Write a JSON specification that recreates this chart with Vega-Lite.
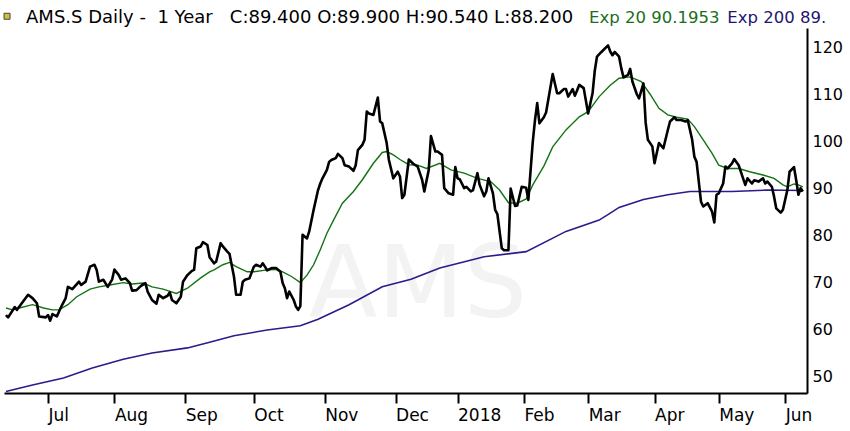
{
  "$schema": "https://vega.github.io/schema/vega-lite/v6.json",
  "width": 803,
  "height": 365,
  "autosize": {"type": "none"},
  "padding": {"left": 4, "top": 28, "right": 43, "bottom": 38},
  "background": "white",
  "datasets": {
    "close": [
      {"date": "2017-06-14", "value": 63.1}, {"date": "2017-06-15", "value": 62.6}, {"date": "2017-06-18", "value": 64.8},
      {"date": "2017-06-19", "value": 64.2}, {"date": "2017-06-24", "value": 67.4}, {"date": "2017-06-26", "value": 66.7},
      {"date": "2017-06-28", "value": 65.6}, {"date": "2017-06-29", "value": 62.8}, {"date": "2017-07-02", "value": 62.6},
      {"date": "2017-07-03", "value": 63.1}, {"date": "2017-07-04", "value": 61.9}, {"date": "2017-07-05", "value": 63.3},
      {"date": "2017-07-07", "value": 62.8}, {"date": "2017-07-09", "value": 64.9}, {"date": "2017-07-11", "value": 66.7},
      {"date": "2017-07-12", "value": 69.1}, {"date": "2017-07-14", "value": 68.6}, {"date": "2017-07-17", "value": 70.2},
      {"date": "2017-07-18", "value": 69.5}, {"date": "2017-07-20", "value": 70.2}, {"date": "2017-07-22", "value": 73.4},
      {"date": "2017-07-24", "value": 73.8}, {"date": "2017-07-25", "value": 72.7}, {"date": "2017-07-26", "value": 70.2},
      {"date": "2017-07-28", "value": 70.6}, {"date": "2017-07-30", "value": 69.1}, {"date": "2017-08-01", "value": 70.7},
      {"date": "2017-08-02", "value": 72.8}, {"date": "2017-08-04", "value": 71.6}, {"date": "2017-08-05", "value": 70.6},
      {"date": "2017-08-07", "value": 70.9}, {"date": "2017-08-09", "value": 69.9}, {"date": "2017-08-10", "value": 68.3},
      {"date": "2017-08-12", "value": 68.4}, {"date": "2017-08-14", "value": 69.3}, {"date": "2017-08-16", "value": 69.9},
      {"date": "2017-08-17", "value": 68.1}, {"date": "2017-08-19", "value": 66.3}, {"date": "2017-08-21", "value": 65.5},
      {"date": "2017-08-22", "value": 67.4}, {"date": "2017-08-24", "value": 66.7}, {"date": "2017-08-26", "value": 67.2},
      {"date": "2017-08-27", "value": 67.9}, {"date": "2017-08-28", "value": 66.3}, {"date": "2017-08-30", "value": 65.6},
      {"date": "2017-09-01", "value": 67.0}, {"date": "2017-09-02", "value": 70.2}, {"date": "2017-09-04", "value": 71.6},
      {"date": "2017-09-06", "value": 72.5}, {"date": "2017-09-07", "value": 72.7}, {"date": "2017-09-08", "value": 77.3},
      {"date": "2017-09-10", "value": 77.7}, {"date": "2017-09-11", "value": 78.6}, {"date": "2017-09-13", "value": 78.0},
      {"date": "2017-09-14", "value": 75.4}, {"date": "2017-09-16", "value": 74.1}, {"date": "2017-09-17", "value": 74.5},
      {"date": "2017-09-19", "value": 78.4}, {"date": "2017-09-20", "value": 77.7}, {"date": "2017-09-22", "value": 76.6},
      {"date": "2017-09-23", "value": 76.1}, {"date": "2017-09-25", "value": 71.3}, {"date": "2017-09-26", "value": 67.4},
      {"date": "2017-09-28", "value": 67.4}, {"date": "2017-09-29", "value": 70.2}, {"date": "2017-09-30", "value": 70.6},
      {"date": "2017-10-02", "value": 70.9}, {"date": "2017-10-04", "value": 73.4}, {"date": "2017-10-05", "value": 73.8},
      {"date": "2017-10-07", "value": 73.4}, {"date": "2017-10-08", "value": 74.1}, {"date": "2017-10-09", "value": 73.4},
      {"date": "2017-10-10", "value": 72.6}, {"date": "2017-10-12", "value": 73.1}, {"date": "2017-10-14", "value": 73.1},
      {"date": "2017-10-16", "value": 72.3}, {"date": "2017-10-17", "value": 69.9}, {"date": "2017-10-18", "value": 68.8},
      {"date": "2017-10-19", "value": 66.7}, {"date": "2017-10-20", "value": 68.1}, {"date": "2017-10-22", "value": 66.3},
      {"date": "2017-10-23", "value": 64.9}, {"date": "2017-10-24", "value": 64.2}, {"date": "2017-10-25", "value": 65.0},
      {"date": "2017-10-26", "value": 80.2}, {"date": "2017-10-28", "value": 79.4}, {"date": "2017-10-29", "value": 80.9},
      {"date": "2017-10-31", "value": 85.5}, {"date": "2017-11-02", "value": 89.7}, {"date": "2017-11-03", "value": 91.1},
      {"date": "2017-11-04", "value": 92.2}, {"date": "2017-11-06", "value": 94.0}, {"date": "2017-11-07", "value": 95.7},
      {"date": "2017-11-08", "value": 96.1}, {"date": "2017-11-10", "value": 96.5}, {"date": "2017-11-11", "value": 97.4},
      {"date": "2017-11-13", "value": 96.5}, {"date": "2017-11-14", "value": 95.0}, {"date": "2017-11-16", "value": 94.7},
      {"date": "2017-11-18", "value": 93.8}, {"date": "2017-11-19", "value": 95.0}, {"date": "2017-11-20", "value": 98.2},
      {"date": "2017-11-22", "value": 99.3}, {"date": "2017-11-23", "value": 100.4}, {"date": "2017-11-24", "value": 106.4},
      {"date": "2017-11-25", "value": 106.0}, {"date": "2017-11-27", "value": 105.7}, {"date": "2017-11-29", "value": 109.4},
      {"date": "2017-11-30", "value": 104.3}, {"date": "2017-12-01", "value": 103.9}, {"date": "2017-12-03", "value": 99.7},
      {"date": "2017-12-04", "value": 96.1}, {"date": "2017-12-06", "value": 92.2}, {"date": "2017-12-07", "value": 92.9},
      {"date": "2017-12-08", "value": 93.6}, {"date": "2017-12-09", "value": 92.6}, {"date": "2017-12-10", "value": 88.0},
      {"date": "2017-12-11", "value": 88.7}, {"date": "2017-12-13", "value": 96.2}, {"date": "2017-12-15", "value": 95.3},
      {"date": "2017-12-17", "value": 94.7}, {"date": "2017-12-19", "value": 91.9}, {"date": "2017-12-20", "value": 89.4},
      {"date": "2017-12-22", "value": 94.0}, {"date": "2017-12-23", "value": 101.2}, {"date": "2017-12-25", "value": 97.9},
      {"date": "2017-12-26", "value": 97.9}, {"date": "2017-12-28", "value": 97.2}, {"date": "2017-12-29", "value": 90.1},
      {"date": "2017-12-31", "value": 89.0}, {"date": "2018-01-02", "value": 88.7}, {"date": "2018-01-03", "value": 94.6},
      {"date": "2018-01-04", "value": 92.2}, {"date": "2018-01-05", "value": 92.0}, {"date": "2018-01-07", "value": 90.1},
      {"date": "2018-01-08", "value": 90.4}, {"date": "2018-01-10", "value": 89.4}, {"date": "2018-01-11", "value": 89.7},
      {"date": "2018-01-13", "value": 93.3}, {"date": "2018-01-14", "value": 90.8}, {"date": "2018-01-16", "value": 88.4},
      {"date": "2018-01-17", "value": 89.4}, {"date": "2018-01-18", "value": 92.2}, {"date": "2018-01-20", "value": 89.0},
      {"date": "2018-01-21", "value": 85.5}, {"date": "2018-01-22", "value": 84.6}, {"date": "2018-01-24", "value": 77.3},
      {"date": "2018-01-25", "value": 76.9}, {"date": "2018-01-27", "value": 76.9}, {"date": "2018-01-28", "value": 90.0},
      {"date": "2018-01-30", "value": 86.3}, {"date": "2018-01-31", "value": 86.4}, {"date": "2018-02-02", "value": 90.4},
      {"date": "2018-02-04", "value": 90.2}, {"date": "2018-02-05", "value": 87.6}, {"date": "2018-02-07", "value": 100.0},
      {"date": "2018-02-08", "value": 104.6}, {"date": "2018-02-09", "value": 108.2}, {"date": "2018-02-10", "value": 103.9},
      {"date": "2018-02-12", "value": 105.2}, {"date": "2018-02-13", "value": 106.2}, {"date": "2018-02-16", "value": 114.4},
      {"date": "2018-02-18", "value": 110.3}, {"date": "2018-02-19", "value": 110.3}, {"date": "2018-02-21", "value": 111.2},
      {"date": "2018-02-22", "value": 111.2}, {"date": "2018-02-23", "value": 109.6}, {"date": "2018-02-25", "value": 111.2},
      {"date": "2018-02-26", "value": 109.8}, {"date": "2018-02-27", "value": 110.9}, {"date": "2018-02-28", "value": 112.1},
      {"date": "2018-03-02", "value": 111.4}, {"date": "2018-03-03", "value": 108.7}, {"date": "2018-03-04", "value": 106.0},
      {"date": "2018-03-06", "value": 110.3}, {"date": "2018-03-07", "value": 115.1}, {"date": "2018-03-08", "value": 118.1},
      {"date": "2018-03-10", "value": 119.1}, {"date": "2018-03-13", "value": 120.5}, {"date": "2018-03-14", "value": 119.2},
      {"date": "2018-03-15", "value": 118.4}, {"date": "2018-03-16", "value": 119.1}, {"date": "2018-03-18", "value": 118.1},
      {"date": "2018-03-19", "value": 115.6}, {"date": "2018-03-20", "value": 113.7}, {"date": "2018-03-22", "value": 114.2},
      {"date": "2018-03-23", "value": 115.5}, {"date": "2018-03-24", "value": 112.8}, {"date": "2018-03-26", "value": 110.1},
      {"date": "2018-03-27", "value": 109.2}, {"date": "2018-03-29", "value": 112.4}, {"date": "2018-03-30", "value": 104.0},
      {"date": "2018-03-31", "value": 100.4}, {"date": "2018-04-02", "value": 99.0}, {"date": "2018-04-03", "value": 95.4},
      {"date": "2018-04-05", "value": 99.7}, {"date": "2018-04-07", "value": 98.6}, {"date": "2018-04-09", "value": 102.5},
      {"date": "2018-04-10", "value": 104.3}, {"date": "2018-04-12", "value": 105.2}, {"date": "2018-04-13", "value": 104.6},
      {"date": "2018-04-15", "value": 104.6}, {"date": "2018-04-17", "value": 104.3}, {"date": "2018-04-18", "value": 104.6},
      {"date": "2018-04-20", "value": 100.4}, {"date": "2018-04-21", "value": 96.8}, {"date": "2018-04-22", "value": 95.7},
      {"date": "2018-04-24", "value": 87.2}, {"date": "2018-04-25", "value": 86.2}, {"date": "2018-04-27", "value": 86.9},
      {"date": "2018-04-29", "value": 85.1}, {"date": "2018-04-30", "value": 82.8}, {"date": "2018-05-01", "value": 88.7},
      {"date": "2018-05-02", "value": 89.0}, {"date": "2018-05-04", "value": 91.1}, {"date": "2018-05-05", "value": 94.7},
      {"date": "2018-05-06", "value": 94.3}, {"date": "2018-05-08", "value": 95.4}, {"date": "2018-05-09", "value": 96.3},
      {"date": "2018-05-11", "value": 95.0}, {"date": "2018-05-13", "value": 92.2}, {"date": "2018-05-14", "value": 90.8},
      {"date": "2018-05-15", "value": 92.2}, {"date": "2018-05-17", "value": 91.1}, {"date": "2018-05-18", "value": 91.8},
      {"date": "2018-05-20", "value": 91.5}, {"date": "2018-05-22", "value": 92.2}, {"date": "2018-05-23", "value": 91.1},
      {"date": "2018-05-24", "value": 91.5}, {"date": "2018-05-26", "value": 90.4}, {"date": "2018-05-27", "value": 88.3},
      {"date": "2018-05-28", "value": 85.8}, {"date": "2018-05-30", "value": 84.9}, {"date": "2018-05-31", "value": 85.5},
      {"date": "2018-06-02", "value": 89.7}, {"date": "2018-06-03", "value": 93.6}, {"date": "2018-06-05", "value": 94.6},
      {"date": "2018-06-06", "value": 91.8}, {"date": "2018-06-07", "value": 88.7}, {"date": "2018-06-08", "value": 90.1},
      {"date": "2018-06-09", "value": 89.4}
    ],
    "exp20": [
      {"date": "2017-06-14", "value": 64.6}, {"date": "2017-06-17", "value": 64.2}, {"date": "2017-06-20", "value": 64.6},
      {"date": "2017-06-26", "value": 65.3}, {"date": "2017-07-01", "value": 64.6}, {"date": "2017-07-05", "value": 64.2},
      {"date": "2017-07-08", "value": 64.2}, {"date": "2017-07-12", "value": 65.3}, {"date": "2017-07-16", "value": 67.0},
      {"date": "2017-07-22", "value": 68.6}, {"date": "2017-07-26", "value": 69.1}, {"date": "2017-07-31", "value": 69.5},
      {"date": "2017-08-06", "value": 70.0}, {"date": "2017-08-10", "value": 69.7}, {"date": "2017-08-15", "value": 69.9},
      {"date": "2017-08-19", "value": 69.1}, {"date": "2017-08-24", "value": 68.6}, {"date": "2017-08-30", "value": 67.7},
      {"date": "2017-09-04", "value": 68.8}, {"date": "2017-09-10", "value": 71.0}, {"date": "2017-09-14", "value": 72.3},
      {"date": "2017-09-16", "value": 72.7}, {"date": "2017-09-20", "value": 73.8}, {"date": "2017-09-23", "value": 74.3},
      {"date": "2017-09-26", "value": 73.4}, {"date": "2017-10-01", "value": 72.3}, {"date": "2017-10-04", "value": 72.3},
      {"date": "2017-10-10", "value": 72.7}, {"date": "2017-10-14", "value": 72.8}, {"date": "2017-10-17", "value": 72.3},
      {"date": "2017-10-21", "value": 71.3}, {"date": "2017-10-25", "value": 70.0}, {"date": "2017-10-28", "value": 71.6},
      {"date": "2017-10-31", "value": 73.8}, {"date": "2017-11-03", "value": 77.0}, {"date": "2017-11-06", "value": 80.5},
      {"date": "2017-11-09", "value": 83.3}, {"date": "2017-11-13", "value": 86.9}, {"date": "2017-11-18", "value": 89.4},
      {"date": "2017-11-22", "value": 91.9}, {"date": "2017-11-27", "value": 95.4}, {"date": "2017-12-01", "value": 97.7},
      {"date": "2017-12-03", "value": 97.9}, {"date": "2017-12-06", "value": 97.2}, {"date": "2017-12-09", "value": 96.2},
      {"date": "2017-12-13", "value": 95.1}, {"date": "2017-12-17", "value": 95.0}, {"date": "2017-12-21", "value": 94.3},
      {"date": "2017-12-27", "value": 95.4}, {"date": "2018-01-01", "value": 94.0}, {"date": "2018-01-07", "value": 93.3},
      {"date": "2018-01-13", "value": 92.2}, {"date": "2018-01-19", "value": 91.5}, {"date": "2018-01-23", "value": 89.7},
      {"date": "2018-01-27", "value": 87.0}, {"date": "2018-01-31", "value": 86.9}, {"date": "2018-02-04", "value": 87.8},
      {"date": "2018-02-07", "value": 90.8}, {"date": "2018-02-12", "value": 94.8}, {"date": "2018-02-16", "value": 98.9},
      {"date": "2018-02-22", "value": 102.5}, {"date": "2018-02-28", "value": 105.3}, {"date": "2018-03-04", "value": 106.4},
      {"date": "2018-03-09", "value": 109.6}, {"date": "2018-03-14", "value": 112.0}, {"date": "2018-03-18", "value": 113.5},
      {"date": "2018-03-23", "value": 113.8}, {"date": "2018-03-28", "value": 112.8}, {"date": "2018-04-01", "value": 110.1},
      {"date": "2018-04-05", "value": 107.1}, {"date": "2018-04-09", "value": 105.7}, {"date": "2018-04-13", "value": 105.2},
      {"date": "2018-04-18", "value": 104.8}, {"date": "2018-04-21", "value": 103.2}, {"date": "2018-04-25", "value": 100.4},
      {"date": "2018-04-29", "value": 97.5}, {"date": "2018-05-02", "value": 95.0}, {"date": "2018-05-06", "value": 94.3},
      {"date": "2018-05-11", "value": 94.3}, {"date": "2018-05-16", "value": 93.6}, {"date": "2018-05-22", "value": 92.9},
      {"date": "2018-05-27", "value": 92.2}, {"date": "2018-05-31", "value": 90.8}, {"date": "2018-06-02", "value": 90.4},
      {"date": "2018-06-05", "value": 91.0}, {"date": "2018-06-07", "value": 90.8}, {"date": "2018-06-09", "value": 90.4}
    ],
    "exp200": [
      {"date": "2017-06-14", "value": 46.8}, {"date": "2017-06-26", "value": 48.2}, {"date": "2017-07-10", "value": 49.7},
      {"date": "2017-07-23", "value": 51.8}, {"date": "2017-08-06", "value": 53.7}, {"date": "2017-08-19", "value": 55.0},
      {"date": "2017-09-04", "value": 56.1}, {"date": "2017-09-14", "value": 57.3}, {"date": "2017-09-25", "value": 58.7},
      {"date": "2017-10-10", "value": 59.9}, {"date": "2017-10-25", "value": 60.8}, {"date": "2017-11-02", "value": 62.2},
      {"date": "2017-11-16", "value": 65.3}, {"date": "2017-12-01", "value": 69.1}, {"date": "2017-12-14", "value": 70.7},
      {"date": "2017-12-27", "value": 73.1}, {"date": "2018-01-16", "value": 75.5}, {"date": "2018-02-04", "value": 76.6},
      {"date": "2018-02-22", "value": 80.9}, {"date": "2018-03-09", "value": 83.3}, {"date": "2018-03-14", "value": 84.8},
      {"date": "2018-03-18", "value": 86.0}, {"date": "2018-03-29", "value": 87.7}, {"date": "2018-04-09", "value": 88.7},
      {"date": "2018-04-19", "value": 89.4}, {"date": "2018-05-08", "value": 89.4}, {"date": "2018-05-24", "value": 89.7},
      {"date": "2018-06-09", "value": 89.6}
    ],
    "labels": [
      {"label": "AMS.S Daily -\u00a0 1 Year\u00a0\u00a0 C:89.400 O:89.900 H:90.540 L:88.200"},
      {"label": "Exp 20 90.1953"},
      {"label": "Exp 200 89."},
      {"label": "AMS"}
    ]
  },
  "layer": [
    {
      "data": {"name": "labels"},
      "transform": [{"filter": "datum.label == 'AMS'"}],
      "mark": {"type": "text", "fontSize": 100, "color": "#f3f3f3", "align": "center", "baseline": "middle"},
      "encoding": {
        "text": {"field": "label"},
        "x": {"datum": {"year": 2017, "month": 12, "date": 17, "hours": 5}, "type": "temporal", "title": null},
        "y": {"datum": 69, "type": "quantitative", "title": null, "axis": {"orient": "right"}}
      }
    },
    {
      "data": {"name": "exp200"},
      "mark": {"type": "line", "color": "#2e1a8a", "strokeWidth": 1.6},
      "encoding": {
        "x": {"field": "date", "type": "temporal", "title": null},
        "y": {"field": "value", "type": "quantitative", "title": null, "axis": {"orient": "right"}}
      }
    },
    {
      "data": {"name": "exp20"},
      "mark": {"type": "line", "color": "#137313", "strokeWidth": 1.4},
      "encoding": {
        "x": {"field": "date", "type": "temporal", "title": null},
        "y": {"field": "value", "type": "quantitative", "title": null, "axis": {"orient": "right"}}
      }
    },
    {
      "data": {"name": "close"},
      "mark": {"type": "line", "color": "black", "strokeWidth": 2.6, "strokeJoin": "round"},
      "encoding": {
        "x": {
          "field": "date",
          "type": "temporal",
          "title": null,
          "scale": {
            "domain": [
              {"year": 2017, "month": 6, "date": 13, "hours": 3},
              {"year": 2018, "month": 6, "date": 10, "hours": 21}
            ]
          },
          "axis": {
            "orient": "bottom",
            "values": [
              {"year": 2017, "month": 7, "date": 3}, {"year": 2017, "month": 8, "date": 2},
              {"year": 2017, "month": 9, "date": 3}, {"year": 2017, "month": 10, "date": 4},
              {"year": 2017, "month": 11, "date": 5}, {"year": 2017, "month": 12, "date": 7},
              {"year": 2018, "month": 1, "date": 4}, {"year": 2018, "month": 2, "date": 3},
              {"year": 2018, "month": 3, "date": 4}, {"year": 2018, "month": 4, "date": 3},
              {"year": 2018, "month": 5, "date": 2}, {"year": 2018, "month": 6, "date": 1}
            ],
            "labelExpr": "month(datum.value) == 0 ? '2018' : timeFormat(datum.value, '%b')",
            "labelAlign": "left",
            "labelFlush": false,
            "labelOverlap": false,
            "labelPadding": 4,
            "labelFontSize": 17,
            "tickSize": 10,
            "tickWidth": 2,
            "grid": false
          }
        },
        "y": {
          "field": "value",
          "type": "quantitative",
          "title": null,
          "scale": {"domain": [46.5, 124.2], "zero": false, "nice": false},
          "axis": {
            "orient": "right",
            "values": [50, 60, 70, 80, 90, 100, 110, 120],
            "tickSize": 0,
            "labelPadding": 5,
            "labelFontSize": 16,
            "grid": false
          }
        }
      }
    },
    {
      "data": {"name": "labels"},
      "transform": [{"filter": "indexof(datum.label, 'AMS.S') == 0"}],
      "mark": {"type": "text", "fontSize": 18, "color": "black", "align": "left", "baseline": "alphabetic"},
      "encoding": {
        "text": {"field": "label"},
        "x": {"datum": {"year": 2017, "month": 6, "date": 23, "hours": 2}, "type": "temporal", "title": null},
        "y": {"datum": 125.2, "type": "quantitative", "title": null, "axis": {"orient": "right"}}
      }
    },
    {
      "data": {"name": "labels"},
      "transform": [{"filter": "datum.label == 'Exp 20 90.1953'"}],
      "mark": {"type": "text", "fontSize": 16.5, "color": "#1b6e1b", "align": "left", "baseline": "alphabetic"},
      "encoding": {
        "text": {"field": "label"},
        "x": {"datum": {"year": 2018, "month": 3, "date": 4, "hours": 10}, "type": "temporal", "title": null},
        "y": {"datum": 125.2, "type": "quantitative", "title": null, "axis": {"orient": "right"}}
      }
    },
    {
      "data": {"name": "labels"},
      "transform": [{"filter": "datum.label == 'Exp 200 89.'"}],
      "mark": {"type": "text", "fontSize": 16.5, "color": "#23166e", "align": "left", "baseline": "alphabetic"},
      "encoding": {
        "text": {"field": "label"},
        "x": {"datum": {"year": 2018, "month": 5, "date": 5, "hours": 21}, "type": "temporal", "title": null},
        "y": {"datum": 125.2, "type": "quantitative", "title": null, "axis": {"orient": "right"}}
      }
    },
    {
      "data": {"name": "labels"},
      "transform": [{"filter": "datum.label == 'AMS'"}],
      "mark": {"type": "point", "shape": "square", "size": 36, "filled": true, "color": "#c9c23a", "stroke": "#444444", "strokeWidth": 1, "opacity": 1},
      "encoding": {
        "x": {"datum": {"year": 2017, "month": 6, "date": 14, "hours": 12}, "type": "temporal", "title": null},
        "y": {"datum": 126.7, "type": "quantitative", "title": null, "axis": {"orient": "right"}}
      }
    }
  ],
  "config": {
    "font": "DejaVu Sans",
    "view": {"stroke": null},
    "axis": {
      "domainColor": "black",
      "domainWidth": 2,
      "tickColor": "black",
      "labelColor": "black",
      "labelFont": "DejaVu Sans"
    }
  }
}
